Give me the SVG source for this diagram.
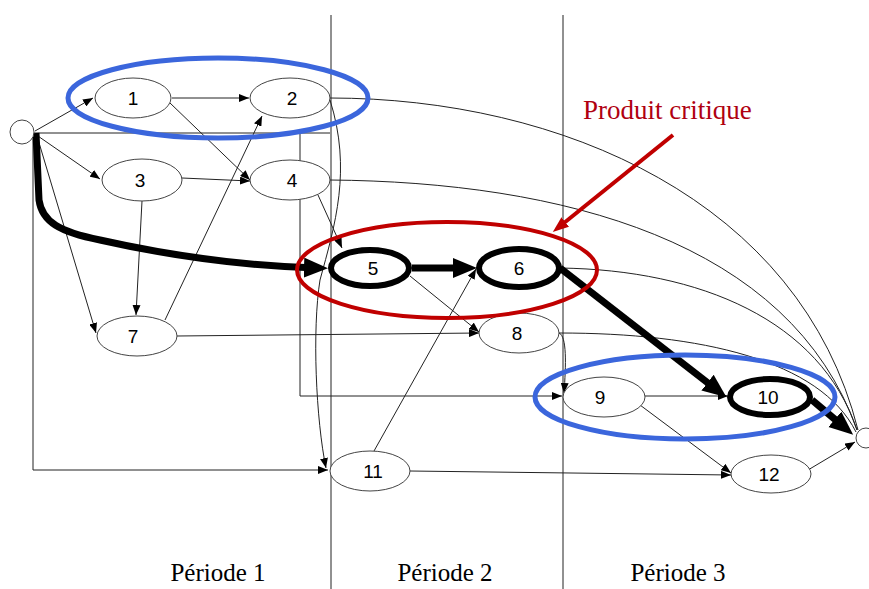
<svg xmlns="http://www.w3.org/2000/svg" width="869" height="589" viewBox="0 0 869 589">
<defs>
<marker id="a" markerUnits="userSpaceOnUse" markerWidth="11" markerHeight="8" refX="10" refY="4" orient="auto"><path d="M0,0 L10,4 L0,8 z" fill="#000"/></marker>
<marker id="A" markerUnits="userSpaceOnUse" markerWidth="26" markerHeight="22" refX="12" refY="10" orient="auto"><path d="M0,0 L24,10 L0,20 z" fill="#000"/></marker>
<marker id="R" markerUnits="userSpaceOnUse" markerWidth="18" markerHeight="14" refX="8" refY="6" orient="auto"><path d="M0,0 L16,6 L0,12 z" fill="#c00000"/></marker>
</defs>
<style>
.ln{fill:none;stroke:#222;stroke-width:1}
.th{fill:none;stroke:#000;stroke-width:7}
.nd{fill:#fff;stroke:#444;stroke-width:1}
.nk{fill:#fff;stroke:#000;stroke-width:6}
.lb{font-family:"Liberation Sans",Arial,sans-serif;font-size:19px;text-anchor:middle;fill:#000}
.pe{font-family:"Liberation Serif","Times New Roman",serif;font-size:25px;text-anchor:middle;fill:#000}
.hb{fill:none;stroke:#3b66dc;stroke-width:5}
.hr{fill:none;stroke:#c00000;stroke-width:4}
.pl{stroke:#222;stroke-width:1}
</style>
<rect width="869" height="589" fill="#fff"/>
<g id="periods">
<line class="pl" x1="331" y1="15" x2="331" y2="589"/>
<line class="pl" x1="563" y1="15" x2="563" y2="589"/>
<text class="pe" x="218" y="581">Période 1</text>
<text class="pe" x="445" y="581">Période 2</text>
<text class="pe" x="678" y="581">Période 3</text>
</g>
<g id="connectors">
<path class="ln" d="M35,131 L93,98" marker-end="url(#a)"/>
<path class="ln" d="M35,134 L100,179" marker-end="url(#a)"/>
<path class="ln" d="M37,136 L96,333" marker-end="url(#a)"/>
<path class="ln" d="M33,138 V470 H328" marker-end="url(#a)"/>
<path class="ln" d="M34,133 H330 M300,133 V396 H562" marker-end="url(#a)"/>
<path class="ln" d="M172,98 H249" marker-end="url(#a)"/>
<path class="ln" d="M170,103 L250,180" marker-end="url(#a)"/>
<path class="ln" d="M182,178 L250,181" marker-end="url(#a)"/>
<path class="ln" d="M142,201 L136,315" marker-end="url(#a)"/>
<path class="ln" d="M165,320 L262,116" marker-end="url(#a)"/>
<path class="ln" d="M177,336 L479,333" marker-end="url(#a)"/>
<path class="ln" d="M330,100 C352,170 335,225 320,280 C312,330 316,420 326,468" marker-end="url(#a)"/>
<path class="ln" d="M318,195 L342,248" marker-end="url(#a)"/>
<path class="ln" d="M410,276 L479,332" marker-end="url(#a)"/>
<path class="ln" d="M374,451 L476,269" marker-end="url(#a)"/>
<path class="ln" d="M559,333 C567,336 566,365 564,393" marker-end="url(#a)"/>
<path class="ln" d="M645,396 H728" marker-end="url(#a)"/>
<path class="ln" d="M640,405 L731,473" marker-end="url(#a)"/>
<path class="ln" d="M410,471 L731,475" marker-end="url(#a)"/>
<path class="ln" d="M808,470 L855,442" marker-end="url(#a)"/>
<path class="ln" d="M330,98 C560,98 800,200 858,430"/>
<path class="ln" d="M330,180 C560,182 790,240 857,430"/>
<path class="ln" d="M560,268 C700,270 820,320 857,430"/>
<path class="ln" d="M559,333 C700,333 820,360 856,432"/>
<path class="th" d="M36,133 L39,200 C42,222 60,232 100,240 C180,258 250,266 316,268" marker-end="url(#A)"/>
<path class="th" d="M412,268 H465" marker-end="url(#A)"/>
<path class="th" d="M560,268 L717,390" marker-end="url(#A)"/>
<path class="th" d="M812,400 L844,427" marker-end="url(#A)"/>
</g>
<g id="source"><circle class="nd" cx="22" cy="132" r="12"/></g>
<g id="sink"><circle class="nd" cx="866" cy="438" r="10"/></g>
<g id="n1"><ellipse class="nd" cx="133" cy="98" rx="38" ry="20"/><text class="lb" x="133" y="105">1</text></g>
<g id="n2"><ellipse class="nd" cx="290" cy="98" rx="40" ry="20"/><text class="lb" x="292" y="105">2</text></g>
<g id="n3"><ellipse class="nd" cx="142" cy="180" rx="40" ry="21"/><text class="lb" x="140" y="187">3</text></g>
<g id="n4"><ellipse class="nd" cx="290" cy="180" rx="40" ry="20"/><text class="lb" x="292" y="187">4</text></g>
<g id="n5"><ellipse class="nk" cx="370" cy="268" rx="39" ry="18"/><text class="lb" x="373" y="275">5</text></g>
<g id="n6"><ellipse class="nk" cx="519" cy="268" rx="40" ry="19"/><text class="lb" x="519" y="275">6</text></g>
<g id="n7"><ellipse class="nd" cx="137" cy="336" rx="40" ry="20"/><text class="lb" x="133" y="343">7</text></g>
<g id="n8"><ellipse class="nd" cx="519" cy="333" rx="40" ry="20"/><text class="lb" x="517" y="340">8</text></g>
<g id="n9"><ellipse class="nd" cx="604" cy="397" rx="41" ry="20"/><text class="lb" x="600" y="404">9</text></g>
<g id="n10"><ellipse class="nk" cx="770" cy="397" rx="40" ry="18"/><text class="lb" x="768" y="404">10</text></g>
<g id="n11"><ellipse class="nd" cx="370" cy="471" rx="40" ry="20"/><text class="lb" x="373" y="478">11</text></g>
<g id="n12"><ellipse class="nd" cx="771" cy="474" rx="40" ry="19"/><text class="lb" x="769" y="481">12</text></g>
<g id="highlights">
<ellipse class="hb" cx="218" cy="98" rx="150" ry="40"/>
<ellipse class="hb" cx="685" cy="397" rx="150" ry="42"/>
<ellipse class="hr" cx="447" cy="270" rx="150" ry="48"/>
<path d="M673,135 L559,227" fill="none" stroke="#c00000" stroke-width="4" marker-end="url(#R)"/>
<text x="583" y="119" font-family="'Liberation Serif','Times New Roman',serif" font-size="27" fill="#b00010">Produit critique</text>
</g>
</svg>
